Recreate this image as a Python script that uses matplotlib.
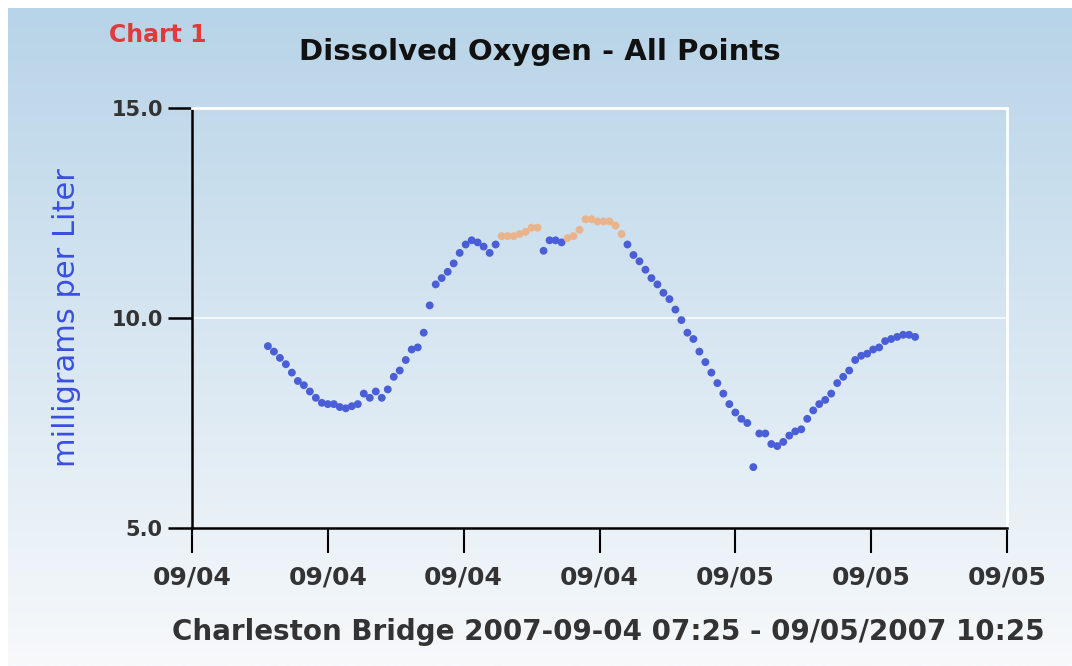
import numpy as np
import pandas as pd
import matplotlib
matplotlib.use("Agg")
import matplotlib.pyplot as plt
import matplotlib.dates as mdates

# readings every 15 minutes from 2007-09-04 07:25
start = pd.Timestamp("2007-09-04 07:25")
do_values = [
    9.33, 9.20, 9.05, 8.90, 8.70, 8.50, 8.40, 8.25, 8.10, 7.98,
    7.95, 7.95, 7.88, 7.85, 7.90, 7.95, 8.20, 8.10, 8.25, 8.10,
    8.30, 8.60, 8.75, 9.00, 9.25, 9.30, 9.65, 10.30, 10.80, 10.95,
    11.10, 11.30, 11.55, 11.75, 11.85, 11.80, 11.70, 11.55, 11.75, 11.95,
    11.95, 11.95, 12.00, 12.05, 12.15, 12.15, 11.60, 11.85, 11.85, 11.80,
    11.90, 11.95, 12.10, 12.35, 12.35, 12.30, 12.30, 12.30, 12.20, 12.00,
    11.75, 11.50, 11.35, 11.15, 10.95, 10.80, 10.60, 10.45, 10.20, 9.95,
    9.65, 9.50, 9.20, 8.95, 8.70, 8.45, 8.20, 7.95, 7.75, 7.60,
    7.50, 6.45, 7.25, 7.25, 7.00, 6.95, 7.05, 7.20, 7.30, 7.35,
    7.60, 7.80, 7.95, 8.05, 8.20, 8.45, 8.60, 8.75, 9.00, 9.10,
    9.15, 9.25, 9.30, 9.45, 9.50, 9.55, 9.60, 9.60, 9.55,
]
# index ranges of points drawn in orange
flag_ranges = [(39, 45), (50, 59)]

times = pd.date_range(start, periods=len(do_values), freq="15min")
vals = np.array(do_values)
flag = np.zeros(len(vals), dtype=bool)
for a, b in flag_ranges:
    flag[a:b + 1] = True

x_start = pd.Timestamp("2007-09-04 04:15")
x_ticks = pd.date_range(x_start, periods=7, freq="340min")

fig = plt.figure(figsize=(10.72, 6.66), dpi=100)
fig.patch.set_facecolor("white")

# gradient panel behind everything
bg = fig.add_axes([8 / 1072, 0, 1 - 8 / 1072, 1 - 8 / 666], zorder=-5)
top = np.array([184, 212, 232]) / 255
bot = np.array([247, 249, 251]) / 255
t = np.linspace(0, 1, 256)[:, None]
grad = (top * (1 - t) + bot * t)[:, None, :]
bg.imshow(grad, aspect="auto", extent=[0, 1, 0, 1])
bg.axis("off")

ax = fig.add_axes([192 / 1072, 1 - 528 / 666, (1007 - 192) / 1072, (528 - 108) / 666])
ax.patch.set_alpha(0)

ax.scatter(times[~flag], vals[~flag], s=32, color="#4a5ed8", edgecolors="none", zorder=3)
ax.scatter(times[flag], vals[flag], s=32, color="#e9b48c", edgecolors="none", zorder=3)

ax.set_ylim(5, 15)
ax.set_yticks([5, 10, 15])
ax.set_yticklabels(["5.0", "10.0", "15.0"])
ax.set_xlim(x_ticks[0], x_ticks[-1])
ax.set_xticks(x_ticks)
ax.xaxis.set_major_formatter(mdates.DateFormatter("%m/%d"))

ax.axhline(10, color="white", lw=1.5, alpha=0.7, zorder=1)

for s in ["left", "bottom"]:
    ax.spines[s].set_color("black")
    ax.spines[s].set_linewidth(1.8)
for s in ["top", "right"]:
    ax.spines[s].set_color("white")
    ax.spines[s].set_linewidth(2)

ax.tick_params(axis="y", length=17, width=1.8, direction="out", pad=4,
               labelsize=15, labelcolor="#333333")
ax.tick_params(axis="x", length=18, width=1.5, direction="out", pad=9,
               labelsize=18, labelcolor="#333333")
for lab in ax.get_xticklabels() + ax.get_yticklabels():
    lab.set_fontweight("bold")

ax.set_ylabel("milligrams per Liter", color="#3a4fe0", fontsize=22, labelpad=22)

fig.text(158 / 1072, 1 - 35 / 666, "Chart 1", color="#e03a3a", fontsize=17,
         fontweight="bold", ha="center", va="center")
fig.text(540 / 1072, 1 - 52 / 666, "Dissolved Oxygen - All Points", color="#111111",
         fontsize=21, fontweight="bold", ha="center", va="center")
fig.text(1045 / 1072, 1 - 632 / 666,
         "Charleston Bridge 2007-09-04 07:25 - 09/05/2007 10:25",
         color="#333333", fontsize=20, fontweight="bold", ha="right", va="center")

fig.savefig("out.png", dpi=100)
